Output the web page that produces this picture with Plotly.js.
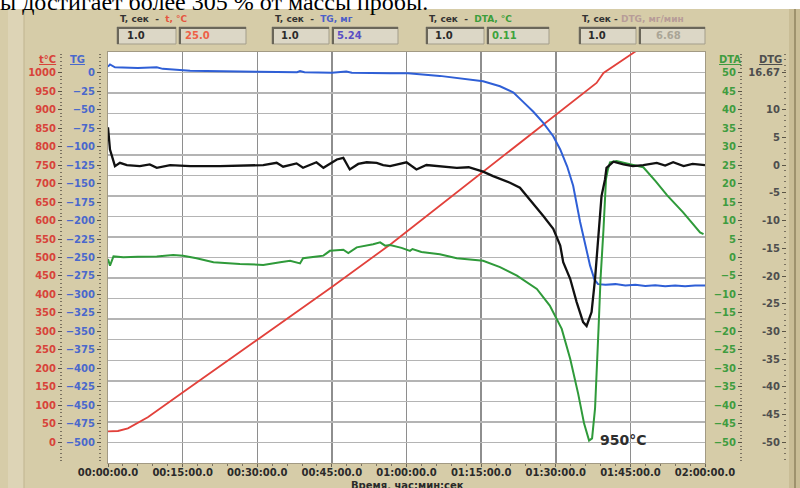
<!DOCTYPE html>
<html><head><meta charset="utf-8">
<script src="https://cdn.plot.ly/plotly-3.0.1.min.js"></script>
<style>html,body{margin:0;padding:0;background:#fff}#chart{width:800px;height:488px}</style>
</head><body><div id="chart"></div>
<script>
// ---- data (time in minutes) ----
const tempTime = [0,2,4,6,8,15,33,45,57,71,75.4,88,98.2,99.6,106,108];
const tempC    = [30,31,38,52,68,135,307,420,538,685,733,866,972,999,1057,1075];

const tgTime = [0,0.4,1.4,3,6,9.8,11,16.5,22,30,38,38.6,39.5,45,47.9,49,56.7,60.3,66.7,71.8,75.4,78.8,81.5,83.5,85.5,87.5,89.5,90.9,92.3,93.5,94.9,96.9,97.8,98.5,100,102,104,106,108,110,112,114,116,118,120];
const tgMg   = [8,11,7,6.5,6,7,5,2.5,1.5,1,0.5,2,0.3,-0.3,1.5,-0.3,-0.8,-1,-4.5,-8.5,-11.7,-18.5,-27,-40,-53,-68,-86,-104,-127,-153,-202,-261,-280,-286,-287,-286,-288,-287,-288.5,-287.5,-289,-288,-289,-288,-288];

const dtgTime = [0,0.4,1.4,2.4,3.8,6.4,8.4,9.8,12.5,16.5,22.5,27,31.2,33.9,35.2,37.9,39.2,41.9,43.3,46,47.3,48.6,50.3,52,54,55.3,56.7,60,62,64,66.7,70.1,72.5,75.4,77.4,80.8,82.8,84.8,87.5,89.5,90.9,91.5,92.9,94.2,95.5,96.2,97.2,97.9,98.6,99.2,99.9,100.2,101.6,103.6,105.5,107.6,110.3,112,113.6,115.7,117.5,119.7,120];
const dtgVal  = [6.8,2.8,-0.2,0.4,0,-0.2,0.1,-0.5,0,-0.2,-0.2,-0.1,0,0.4,-0.3,0.3,-0.5,0.5,-0.5,1.0,1.3,-0.8,0.2,0.5,0.4,0,-0.2,0.5,-0.8,0,-0.2,-0.5,-0.4,-1.2,-2.0,-3.2,-4.1,-6.2,-9.2,-11.5,-14.5,-17.5,-20.5,-24.7,-28.3,-29,-26.5,-20.5,-11.5,-5.6,-2.6,-0.5,0.6,0.1,-0.2,0,0.4,-0.1,0.5,-0.2,0.2,0,0];

const dtaTime = [0,0.4,1.1,3.1,6,9.8,13.1,15.1,17.8,21.2,26.5,31.2,34.6,36.6,38.6,39.2,42,43.3,44.6,47.3,48.3,50,53.3,54.7,55.7,56.7,59,60.7,61.2,63,66.7,70.1,75.4,78.8,82.2,86.2,88.8,90.2,91.2,92.9,94.5,95.7,96.7,97.3,97.9,98.6,99.0,99.6,100.1,100.5,100.9,102.2,103.5,104.9,107.6,110.1,112.4,115.6,119,119.7];
const dtaVal  = [-0.4,-2.2,0.3,0.05,0.2,0.3,0.7,0.5,-0.2,-1.3,-1.75,-2.0,-1.3,-0.9,-1.6,-0.2,0.3,0.5,1.8,2.1,1.2,2.75,3.6,4.1,3.2,3.4,2.6,1.8,2.3,1.5,0.9,-0.2,-0.9,-2.6,-4.9,-8.5,-13,-16.6,-19.3,-27.4,-36.8,-44.9,-49.5,-48.9,-40.8,-19.3,-5.8,7.7,21.2,23.9,25.7,26.1,25.6,25.2,24.4,20.6,16.8,12.2,6.8,6.3];

const xTickVals = [0,15,30,45,60,75,90,105,120];
const xTickText = ['00:00:00.0','00:15:00.0','00:30:00.0','00:45:00.0','01:00:00.0','01:15:00.0','01:30:00.0','01:45:00.0','02:00:00.0'];
const tTickVals = [0,50,100,150,200,250,300,350,400,450,500,550,600,650,700,750,800,850,900,950,1000];
const tgTickVals = [-500,-475,-450,-425,-400,-375,-350,-325,-300,-275,-250,-225,-200,-175,-150,-125,-100,-75,-50,-25,0];
const dtaTickVals = [-50,-45,-40,-35,-30,-25,-20,-15,-10,-5,0,5,10,15,20,25,30,35,40,45,50];
const dtgTickVals = [-50,-45,-40,-35,-30,-25,-20,-15,-10,-5,0,5,10,16.67];
const dtgTickText = ['-50','-45','-40','-35','-30','-25','-20','-15','-10','-5','0','5','10','16.67'];

// ---- helpers ----
const W = 800, H = 488;
const PX = v => v / W;
const PY = v => 1 - v / H;
const FONT = 'DejaVu Sans';

const traces = [
  // empty trace that registers the grid subplot (x / y)
  {x: [], y: [], yaxis: 'y', mode: 'lines', hoverinfo: 'skip'},
  {x: dtaTime, y: dtaVal, yaxis: 'y4', mode: 'lines', line: {color: '#2f9a3a', width: 2}},
  {x: tempTime, y: tempC, yaxis: 'y2', mode: 'lines', line: {color: '#e2413b', width: 1.8}},
  {x: tgTime, y: tgMg, yaxis: 'y3', mode: 'lines', line: {color: '#2f5fd6', width: 2}},
  {x: dtgTime, y: dtgVal, yaxis: 'y5', mode: 'lines', line: {color: '#111111', width: 2.3}}
];

const dom = [1 - 463 / H, 1 - 52 / H];
function sideAxis(range, pos, color, vals, minorDtick) {
  return {
    range: range, overlaying: 'y', anchor: 'free', position: pos, side: 'left',
    domain: dom, showgrid: false, zeroline: false, showline: false,
    tickmode: 'array', tickvals: vals,
    ticks: 'outside', ticklen: 4, tickwidth: 1, tickcolor: '#5a5446',
    tickfont: {family: FONT, size: 10, color: color, weight: 'bold'},
    minor: {tickmode: 'linear', tick0: 0, dtick: minorDtick, ticks: 'outside', ticklen: 2, tickcolor: '#7a7260', showgrid: false}
  };
}

const layout = {
  width: W, height: H,
  margin: {l: 0, r: 0, t: 0, b: 0, pad: 0},
  paper_bgcolor: '#d6cca8',
  plot_bgcolor: '#ffffff',
  showlegend: false,
  hovermode: false,
  xaxis: {
    domain: [108 / W, 705 / W], range: [0, 120], anchor: 'y',
    tickmode: 'array', tickvals: xTickVals, ticktext: xTickText,
    showgrid: true, gridcolor: '#8e8e8e', gridwidth: 1.5, zeroline: false,
    showline: true, mirror: true, linecolor: '#a29a84', linewidth: 1,
    ticks: 'outside', ticklen: 3, tickcolor: '#6a6455', ticklabelstandoff: -3,
    tickfont: {family: FONT, size: 10, color: '#2a2a2a', weight: 'bold'},
    minor: {tickmode: 'linear', tick0: 0, dtick: 3, ticks: 'outside', ticklen: 2, tickcolor: '#7a7260', showgrid: false}
  },
  yaxis: {
    domain: dom, range: [0, 20], anchor: 'x', tickmode: 'linear', tick0: 0, dtick: 1,
    showgrid: true, gridcolor: '#b4b4b4', gridwidth: 1.5, zeroline: false,
    showticklabels: false, ticks: '',
    showline: true, mirror: true, linecolor: '#a29a84', linewidth: 1
  },
  yaxis2: sideAxis([-55.556, 1055.556], 62 / W, '#d8433a', tTickVals, 10),
  yaxis3: sideAxis([-527.778, 27.778], 101 / W, '#4a68cc', tgTickVals, 5),
  yaxis4: sideAxis([-55.556, 55.556], 742 / W, '#3f9c3f', dtaTickVals, 1),
  yaxis5: Object.assign(sideAxis([-53.704, 20.374], 786 / W, '#4e4e4e', dtgTickVals, 1),
    {ticktext: dtgTickText}),
  shapes: [],
  annotations: []
};

// frame / background decoration
const S = layout.shapes;
S.push({type: 'rect', xref: 'paper', yref: 'paper', x0: 0, x1: 1, y0: PY(9), y1: 1, fillcolor: '#ffffff', line: {width: 0}, layer: 'below'});
S.push({type: 'rect', xref: 'paper', yref: 'paper', x0: PX(8), x1: PX(24), y0: 0, y1: PY(9), fillcolor: '#ddd4b6', line: {width: 0}, layer: 'below'});
S.push({type: 'line', xref: 'paper', yref: 'paper', x0: PX(24), x1: PX(24), y0: 0, y1: PY(9), line: {color: '#bfb48f', width: 1}, layer: 'below'});
S.push({type: 'rect', xref: 'paper', yref: 'paper', x0: PX(789), x1: 1, y0: 0, y1: PY(9), fillcolor: '#c9bd96', line: {width: 0}, layer: 'below'});
S.push({type: 'line', xref: 'paper', yref: 'paper', x0: PX(795), x1: PX(795), y0: 0, y1: PY(9), line: {color: '#8f855f', width: 1.5}, layer: 'below'});

// header boxes
const boxes = [[117,176],[179,246],[272,329],[332,398],[426,484],[487,549],[579,636],[639,705]];
boxes.forEach(b => {
  S.push({type: 'rect', xref: 'paper', yref: 'paper', x0: PX(b[0]), x1: PX(b[1]), y0: PY(44), y1: PY(27), fillcolor: '#dcd7c6', line: {color: '#a39d8b', width: 1}});
  S.push({type: 'line', xref: 'paper', yref: 'paper', x0: PX(b[0]), x1: PX(b[1]), y0: PY(28), y1: PY(28), line: {color: '#6a6659', width: 2}});
  S.push({type: 'line', xref: 'paper', yref: 'paper', x0: PX(b[0] + 1), x1: PX(b[0] + 1), y0: PY(44), y1: PY(27), line: {color: '#6a6659', width: 2}});
});

const A = layout.annotations;
function ann(text, x, y, opts) {
  A.push(Object.assign({text: text, xref: 'paper', yref: 'paper', x: PX(x), y: PY(y),
    xanchor: 'left', yanchor: 'middle', showarrow: false,
    font: {family: FONT, size: 9, color: '#333333', weight: 'bold'}}, opts || {}));
}
// cut-off document text at top
ann('ы достигает более 305 % от массы пробы.', -2, 17, {yanchor: 'bottom', font: {family: 'Liberation Serif', size: 24, color: '#000000'}});

// header labels
ann("T, сек  -  <span style='color:#e5553f'>t, °C</span>", 118, 19);
ann("T, сек  -  <span style='color:#4c5fc8'>TG, мг</span>", 273, 19);
ann("T, сек  -  <span style='color:#3a9e3a'>DTA, °C</span>", 427, 19);
ann("T, сек - <span style='color:#b79c98'>DTG, мг/мин</span>", 580, 19);
// header values
ann('1.0', 125, 36, {font: {family: FONT, size: 10, color: '#2b2b2b', weight: 'bold'}});
ann('25.0', 183, 36, {font: {family: FONT, size: 10, color: '#ee6046', weight: 'bold'}});
ann('1.0', 279, 36, {font: {family: FONT, size: 10, color: '#2b2b2b', weight: 'bold'}});
ann('5.24', 335, 36, {font: {family: FONT, size: 10, color: '#5a4fc4', weight: 'bold'}});
ann('1.0', 433, 36, {font: {family: FONT, size: 10, color: '#2b2b2b', weight: 'bold'}});
ann('0.11', 490, 36, {font: {family: FONT, size: 10, color: '#3da33d', weight: 'bold'}});
ann('1.0', 586, 36, {font: {family: FONT, size: 10, color: '#2b2b2b', weight: 'bold'}});
ann('6.68', 654, 36, {font: {family: FONT, size: 10, color: '#aaa596', weight: 'bold'}});

// axis titles
ann('<u>t°C</u>', 37, 59, {font: {family: FONT, size: 10, color: '#d8433a', weight: 'bold'}});
ann('<u>TG</u>', 68, 59, {font: {family: FONT, size: 10, color: '#4a68cc', weight: 'bold'}});
ann('<u>DTA</u>', 717, 59, {font: {family: FONT, size: 10, color: '#3f9c3f', weight: 'bold'}});
ann('<u>DTG</u>', 757, 59, {font: {family: FONT, size: 10, color: '#4e4e4e', weight: 'bold'}});

// x axis title (cut off at bottom)
A.push({text: 'Время, час:мин:сек', xref: 'paper', yref: 'paper', x: PX(407), y: PY(485),
  xanchor: 'center', yanchor: 'middle', showarrow: false,
  font: {family: FONT, size: 10, color: '#2a2a2a', weight: 'bold'}});

// peak label
ann('950°C', 598, 440, {font: {family: FONT, size: 14, color: '#2e2e2e', weight: 'bold'}});

Plotly.newPlot('chart', traces, layout, {staticPlot: true, displayModeBar: false});
</script>
</body></html>
